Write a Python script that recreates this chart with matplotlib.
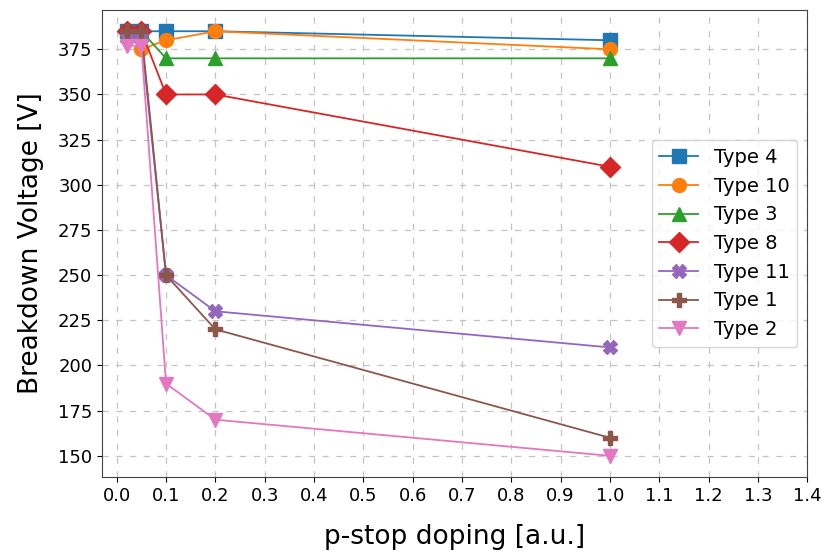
import matplotlib
matplotlib.use("Agg")
import matplotlib.pyplot as plt

# p-stop doping values (a.u.)
doping = [0.02, 0.05, 0.1, 0.2, 1.0]

labels = ["Type 4", "Type 10", "Type 3", "Type 8", "Type 11", "Type 1", "Type 2"]
type4 = [385, 385, 385, 385, 380]
type10 = [385, 375, 380, 385, 375]
type3 = [385, 385, 370, 370, 370]
type8 = [385, 385, 350, 350, 310]
type11 = [381, 381, 250, 230, 210]
type1 = [385, 385, 250, 220, 160]
type2 = [377, 377, 190, 170, 150]

series = [type4, type10, type3, type8, type11, type1, type2]
markers = ["s", "o", "^", "D", "X", "P", "v"]

fig, ax = plt.subplots(figsize=(8.22, 5.56), dpi=100)
fig.subplots_adjust(left=0.124, right=0.982, top=0.982, bottom=0.142)

for vals, lab, m in zip(series, labels, markers):
    ax.plot(doping, vals, marker=m, markersize=10, linewidth=1.3, label=lab)

ax.set_xlim(-0.03, 1.4)
ax.set_xticks([i / 10 for i in range(15)])
ax.set_yticks(range(150, 376, 25))
ax.grid(True, linestyle=(0, (5, 6)), color="#c4c4c4", linewidth=0.9)
ax.tick_params(labelsize=13)
for s in ax.spines.values():
    s.set_color("#444444")
ax.set_xlabel("p-stop doping [a.u.]", fontsize=19, labelpad=14)
ax.set_ylabel("Breakdown Voltage [V]", fontsize=19, labelpad=10)
ax.legend(loc="center right", fontsize=14)

plt.savefig("out.png", dpi=100)
